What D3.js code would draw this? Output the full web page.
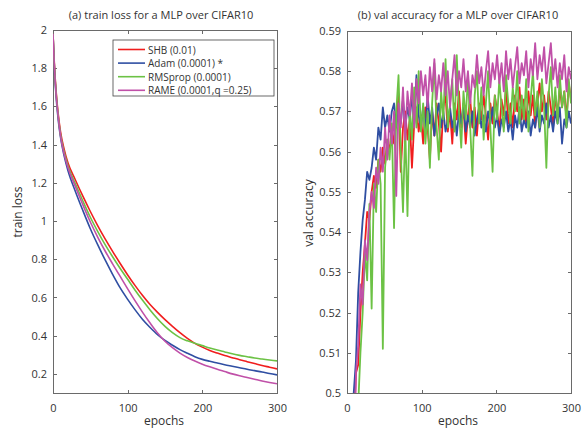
<!DOCTYPE html>
<html>
<head>
<meta charset="utf-8">
<script src="https://cdn.jsdelivr.net/npm/d3@7"></script>
<style>
body { margin: 0; background: #fff; }
text { font-family: "Open Sans", sans-serif; fill: #333; }
</style>
</head>
<body>
<div id="chart"></div>
<script>
// (a) train loss
const lossEpochs = [0, 1, 2, 3, 5, 7, 10, 15, 20, 30, 40, 50, 60, 70, 80, 90, 100, 110, 120, 130,
    140, 150, 160, 170, 180, 190, 200, 210, 220, 230, 240, 250, 260, 270, 280, 290, 300];
const shbLoss = [1.98, 1.89, 1.81, 1.745, 1.64, 1.56, 1.47, 1.375, 1.305, 1.215, 1.13, 1.05, 0.975,
    0.905, 0.84, 0.778, 0.718, 0.662, 0.61, 0.563, 0.522, 0.484, 0.449, 0.416, 0.386, 0.36, 0.34,
    0.323, 0.309, 0.296, 0.285, 0.274, 0.264, 0.254, 0.244, 0.235, 0.226];
const adamLoss = [1.98, 1.88, 1.79, 1.72, 1.61, 1.53, 1.44, 1.34, 1.265, 1.155, 1.055, 0.96, 0.875,
    0.795, 0.72, 0.65, 0.59, 0.535, 0.485, 0.443, 0.405, 0.375, 0.35, 0.327, 0.308, 0.29, 0.276,
    0.266, 0.257, 0.248, 0.24, 0.232, 0.224, 0.217, 0.21, 0.202, 0.195];
const rmsLoss = [1.98, 1.885, 1.80, 1.735, 1.63, 1.55, 1.455, 1.36, 1.29, 1.195, 1.105, 1.02, 0.945,
    0.875, 0.812, 0.752, 0.695, 0.638, 0.585, 0.535, 0.489, 0.449, 0.416, 0.39, 0.373, 0.36, 0.348,
    0.336, 0.325, 0.315, 0.305, 0.297, 0.29, 0.283, 0.278, 0.273, 0.268];
const rameLoss = [1.98, 1.885, 1.80, 1.73, 1.625, 1.545, 1.45, 1.35, 1.28, 1.18, 1.085, 0.995, 0.915,
    0.842, 0.775, 0.71, 0.645, 0.582, 0.522, 0.466, 0.414, 0.371, 0.337, 0.309, 0.286, 0.267, 0.251,
    0.237, 0.224, 0.212, 0.2, 0.19, 0.181, 0.172, 0.163, 0.155, 0.148];

// (b) val accuracy, one value every 3 epochs (0, 3, ..., 300)
const accStep = 3;
const shbAcc = [
    0.38, 0.44, 0.47, 0.49, 0.505, 0.507, 0.520, 0.530, 0.537, 0.545,
    0.543, 0.550, 0.554, 0.551, 0.558, 0.555, 0.561, 0.557, 0.563, 0.560,
    0.566, 0.562, 0.568, 0.574, 0.555, 0.566, 0.570, 0.563, 0.568, 0.556,
    0.567, 0.571, 0.565, 0.569, 0.562, 0.571, 0.566, 0.558, 0.570, 0.564,
    0.572, 0.567, 0.560, 0.571, 0.574, 0.565, 0.570, 0.562, 0.572, 0.568,
    0.575, 0.566, 0.571, 0.562, 0.569, 0.573, 0.566, 0.571, 0.564, 0.572,
    0.568, 0.574, 0.569, 0.563, 0.572, 0.567, 0.574, 0.570, 0.565, 0.573,
    0.569, 0.576, 0.567, 0.572, 0.566, 0.574, 0.570, 0.576, 0.568, 0.573,
    0.567, 0.575, 0.569, 0.574, 0.566, 0.572, 0.577, 0.570, 0.574, 0.568,
    0.575, 0.571, 0.566, 0.574, 0.569, 0.576, 0.571, 0.575, 0.568, 0.577,
    0.573];
const adamAcc = [
    0.40, 0.46, 0.485, 0.500, 0.508, 0.525, 0.535, 0.543, 0.548, 0.555,
    0.553, 0.556, 0.561, 0.558, 0.566, 0.563, 0.571, 0.566, 0.569, 0.565,
    0.570, 0.572, 0.566, 0.570, 0.567, 0.573, 0.566, 0.571, 0.568, 0.574,
    0.567, 0.579, 0.569, 0.566, 0.571, 0.565, 0.574, 0.567, 0.571, 0.564,
    0.569, 0.572, 0.566, 0.570, 0.565, 0.568, 0.571, 0.566, 0.569, 0.564,
    0.570, 0.567, 0.572, 0.565, 0.569, 0.566, 0.570, 0.564, 0.568, 0.571,
    0.566, 0.569, 0.565, 0.570, 0.567, 0.571, 0.566, 0.569, 0.564, 0.568,
    0.566, 0.570, 0.565, 0.568, 0.563, 0.569, 0.566, 0.571, 0.565, 0.568,
    0.566, 0.570, 0.564, 0.568, 0.566, 0.571, 0.565, 0.569, 0.567, 0.572,
    0.566, 0.569, 0.565, 0.570, 0.567, 0.571, 0.562, 0.568, 0.566, 0.570,
    0.567];
const rmsAcc = [
    0.36, 0.41, 0.45, 0.47, 0.485, 0.497, 0.510, 0.520, 0.535, 0.528,
    0.547, 0.521, 0.552, 0.545, 0.558, 0.552, 0.511, 0.556, 0.563, 0.558,
    0.567, 0.541, 0.570, 0.579, 0.560, 0.545, 0.566, 0.544, 0.571, 0.563,
    0.576, 0.566, 0.580, 0.565, 0.572, 0.562, 0.570, 0.556, 0.572, 0.582,
    0.566, 0.558, 0.575, 0.568, 0.583, 0.566, 0.572, 0.578, 0.565, 0.584,
    0.570, 0.561, 0.575, 0.568, 0.579, 0.566, 0.554, 0.574, 0.580, 0.567,
    0.576, 0.563, 0.572, 0.580, 0.566, 0.555, 0.574, 0.568, 0.578, 0.571,
    0.565, 0.579, 0.572, 0.567, 0.576, 0.570, 0.580, 0.567, 0.574, 0.568,
    0.578, 0.565, 0.573, 0.580, 0.569, 0.575, 0.566, 0.578, 0.571, 0.556,
    0.574, 0.581, 0.569, 0.576, 0.567, 0.579, 0.571, 0.575, 0.566, 0.578,
    0.572];
const rameAcc = [
    0.37, 0.43, 0.46, 0.48, 0.505, 0.512, 0.527, 0.522, 0.538, 0.533,
    0.545, 0.550, 0.546, 0.556, 0.552, 0.561, 0.555, 0.566, 0.558, 0.569,
    0.562, 0.570, 0.549, 0.572, 0.566, 0.576, 0.563, 0.575, 0.569, 0.577,
    0.566, 0.578, 0.572, 0.580, 0.574, 0.579, 0.571, 0.581, 0.575, 0.583,
    0.573, 0.579, 0.575, 0.582, 0.574, 0.580, 0.571, 0.578, 0.584, 0.574,
    0.580, 0.576, 0.583, 0.575, 0.580, 0.572, 0.579, 0.576, 0.584, 0.577,
    0.581, 0.574, 0.580, 0.585, 0.576, 0.582, 0.578, 0.584, 0.577, 0.582,
    0.575, 0.585, 0.578, 0.583, 0.576, 0.581, 0.586, 0.577, 0.582, 0.579,
    0.585, 0.576, 0.583, 0.579, 0.587, 0.578, 0.584, 0.580, 0.586, 0.577,
    0.582, 0.587, 0.578, 0.583, 0.576, 0.582, 0.578, 0.584, 0.575, 0.581,
    0.578];

const legendNames = ["SHB (0.01)", "Adam (0.0001) *", "RMSprop (0.0001)", "RAME (0.0001,q =0.25)"];
const colors = ["#f01e1e", "#2f4ea2", "#6cc245", "#c050a8"];
const epochTicks = [0, 100, 200, 300];
const lossTicks = [0.2, 0.4, 0.6, 0.8, 1, 1.2, 1.4, 1.6, 1.8, 2];
const accTicks = [0.5, 0.51, 0.52, 0.53, 0.54, 0.55, 0.56, 0.57, 0.58, 0.59];

const width = 585, height = 429;
const left = {x0: 53, x1: 277, y0: 30, y1: 393},
    right = {x0: 347, x1: 571, y0: 31, y1: 393};

const svg = d3.select("#chart")
    .append("svg")
    .attr("width", width)
    .attr("height", height);

const xL = d3.scaleLinear().domain([0, 300]).range([left.x0, left.x1]);
const yL = d3.scaleLinear().domain([0.1, 2]).range([left.y1, left.y0]);
const xR = d3.scaleLinear().domain([0, 300]).range([right.x0, right.x1]);
const yR = d3.scaleLinear().domain([0.5, 0.59]).range([right.y1, right.y0]);

function frame(box, x, y, yTicks, name) {
    const g = svg.append("g");
    g.append("rect")
        .attr("x", box.x0).attr("y", box.y0)
        .attr("width", box.x1 - box.x0).attr("height", box.y1 - box.y0)
        .attr("fill", "none").attr("stroke", "#6a6a6a").attr("stroke-width", 1)
        .attr("shape-rendering", "crispEdges");

    const ax = [
        [d3.axisBottom(x).tickValues(epochTicks).tickPadding(11), box.y1, "t"],
        [d3.axisTop(x).tickValues(epochTicks).tickFormat(""), box.y0, "t"],
        [d3.axisLeft(y).tickValues(yTicks).tickFormat(d3.format("~g")).tickPadding(6), box.x0, "l"],
        [d3.axisRight(y).tickValues(yTicks).tickFormat(""), box.x1, "l"]
    ];
    ax.forEach(function(a) {
        const ga = g.append("g")
            .attr("transform", a[2] == "t" ? `translate(0, ${a[1]})` : `translate(${a[1]}, 0)`)
            .call(a[0].tickSizeInner(-3.5).tickSizeOuter(0));
        ga.select(".domain").remove();
        ga.selectAll("line").attr("stroke", "#6a6a6a").attr("shape-rendering", "crispEdges");
        ga.selectAll("text").style("font-family", "Open Sans, sans-serif")
            .style("font-size", "11px").attr("fill", "#3a3a3a");
    });

    svg.append("clipPath").attr("id", name)
        .append("rect")
        .attr("x", box.x0).attr("y", box.y0)
        .attr("width", box.x1 - box.x0).attr("height", box.y1 - box.y0);
}

frame(left, xL, yL, lossTicks, "clipL");
frame(right, xR, yR, accTicks, "clipR");

// loss curves
const lossLine = d3.line()
    .x(function(d, i) { return xL(lossEpochs[i]); })
    .y(function(d) { return yL(d); })
    .curve(d3.curveMonotoneX);

[shbLoss, adamLoss, rmsLoss, rameLoss].forEach(function(s, k) {
    svg.append("path")
        .attr("clip-path", "url(#clipL)")
        .attr("d", lossLine(s))
        .attr("fill", "none")
        .attr("stroke", colors[k])
        .attr("stroke-width", 1.6);
});

// accuracy curves
const accLine = d3.line()
    .x(function(d, i) { return xR(i * accStep); })
    .y(function(d) { return yR(d); });

[shbAcc, adamAcc, rmsAcc, rameAcc].forEach(function(s, k) {
    svg.append("path")
        .attr("clip-path", "url(#clipR)")
        .attr("d", accLine(s))
        .attr("fill", "none")
        .attr("stroke", colors[k])
        .attr("stroke-width", 1.8)
        .attr("stroke-linejoin", "round");
});

// legend
const lg = svg.append("g");
lg.append("rect")
    .attr("x", 113).attr("y", 40).attr("width", 161).attr("height", 56)
    .attr("fill", "#fff").attr("stroke", "#444").attr("stroke-width", 0.8);
legendNames.forEach(function(n, i) {
    const yy = 49.5 + i * 13.6;
    lg.append("line")
        .attr("x1", 118).attr("x2", 145).attr("y1", yy).attr("y2", yy)
        .attr("stroke", colors[i]).attr("stroke-width", 1.6);
    lg.append("text")
        .attr("x", 148).attr("y", yy)
        .attr("dominant-baseline", "central")
        .style("font-size", "10px").attr("fill", "#222")
        .text(n);
});

// titles and axis labels
svg.append("text").attr("x", 161).attr("y", 19).attr("text-anchor", "middle")
    .style("font-size", "11px").attr("fill", "#222")
    .text("(a) train loss for a MLP over CIFAR10");
svg.append("text").attr("x", 458).attr("y", 19).attr("text-anchor", "middle")
    .style("font-size", "11px").attr("fill", "#222")
    .text("(b) val accuracy for a MLP over CIFAR10");

svg.append("text").attr("x", 164).attr("y", 425).attr("text-anchor", "middle")
    .style("font-size", "12px").text("epochs");
svg.append("text").attr("x", 458).attr("y", 425).attr("text-anchor", "middle")
    .style("font-size", "12px").text("epochs");

svg.append("text").attr("transform", "translate(22, 212) rotate(-90)")
    .attr("text-anchor", "middle").style("font-size", "12px").text("train loss");
svg.append("text").attr("transform", "translate(313, 213) rotate(-90)")
    .attr("text-anchor", "middle").style("font-size", "12px").text("val accuracy");
</script>
</body>
</html>
